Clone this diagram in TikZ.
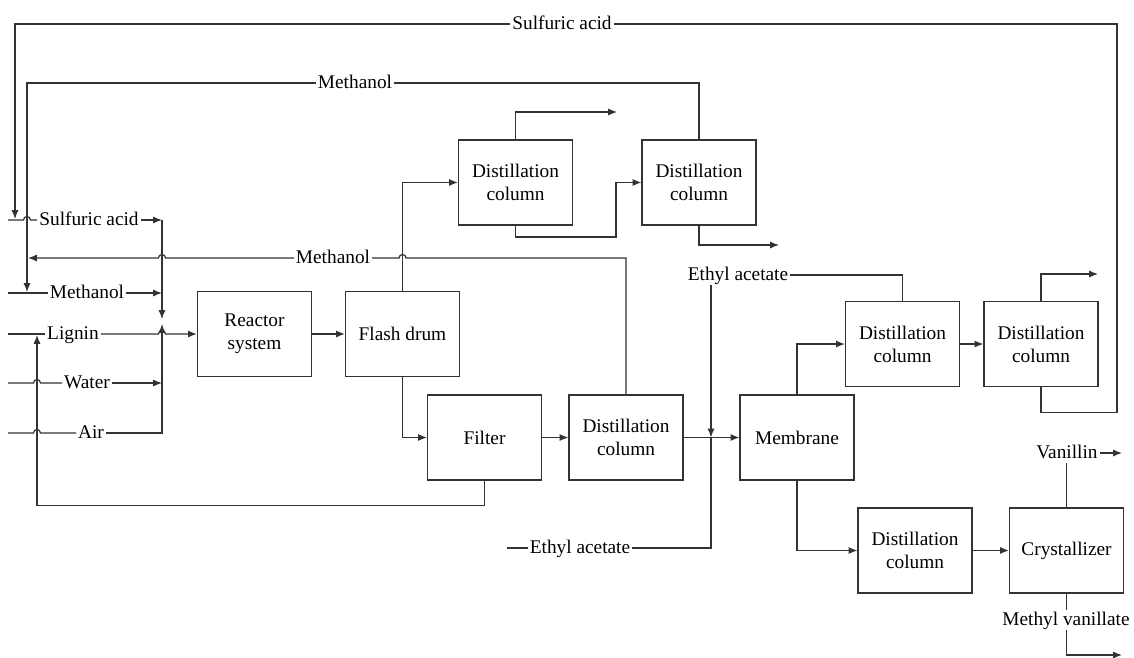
\documentclass[tikz,border=0pt]{standalone}
\usepackage{fontspec}
\setmainfont{Liberation Serif}
\usetikzlibrary{arrows.meta,positioning}
\tikzset{
  pfdbox/.style={
    rectangle, draw=black!80, line width=0.7pt,
    minimum width=2.28cm, minimum height=1.7cm,
    align=center, font=\fontsize{11}{13}\selectfont, inner sep=2pt
  },
  pfdlabel/.style={fill=white, inner sep=1pt, text height=1.55ex, text depth=0.3ex,
    font=\fontsize{11}{13}\selectfont},
  pfdline/.style={line width=0.7pt, draw=black!80},
  pfdarrow/.style={pfdline, -{Latex[length=5pt,width=4pt]}},
  jumpr/.style={insert path={arc[start angle=180,end angle=0,radius=0.07cm]}},
  jumpl/.style={insert path={arc[start angle=0,end angle=180,radius=0.07cm]}},
}

\begin{document}
\begin{tikzpicture}[x=0.02cm, y=-0.02cm]
  \useasboundingbox (0,0) rectangle (1134,657);
  % units
  \node (n1) [pfdbox] at (254.5,334) {Reactor\\system};
  \node (n2) [pfdbox] at (402.5,334) {Flash drum};
  \node (n3) [pfdbox] at (484.5,437.5) {Filter};
  \node (n4) [pfdbox] at (626,437.5) {Distillation\\column};
  \node (n5) [pfdbox] at (797,437.5) {Membrane};
  \node (n6) [pfdbox] at (515.5,182.5) {Distillation\\column};
  \node (n7) [pfdbox] at (699,182.5) {Distillation\\column};
  \node (n8) [pfdbox] at (902.5,344) {Distillation\\column};
  \node (n9) [pfdbox] at (1041,344) {Distillation\\column};
  \node (n10) [pfdbox] at (915,550.5) {Distillation\\column};
  \node (n11) [pfdbox] at (1066.5,550.5) {Crystallizer};
  % stream labels
  \node (t1) [pfdlabel] at (562,24) {Sulfuric acid};
  \node (t2) [pfdlabel] at (355,83) {Methanol};
  \node (t3) [pfdlabel] at (333,258) {Methanol};
  \node (f1) [pfdlabel] at (89,220) {Sulfuric acid};
  \node (f2) [pfdlabel] at (87,293) {Methanol};
  \node (f3) [pfdlabel] at (73,334) {Lignin};
  \node (f4) [pfdlabel] at (87,383) {Water};
  \node (f5) [pfdlabel] at (91,433) {Air};
  \node (e1) [pfdlabel] at (580,548) {Ethyl acetate};
  \node (e2) [pfdlabel] at (738,275) {Ethyl acetate};
  \node (p1) [pfdlabel] at (1067,453) {Vanillin};
  \node (p2) [pfdlabel] at (1066,620) {Methyl vanillate};
  % free ends
  \coordinate (s1) at (8,220); \coordinate (s2) at (8,293);
  \coordinate (s3) at (8,334); \coordinate (s4) at (8,383);
  \coordinate (s5) at (8,433); \coordinate (s6) at (507,548);
  \coordinate (mt) at (162,220); \coordinate (mb) at (162,433);
  \coordinate (m2) at (162,293); \coordinate (m4) at (162,383);
  \coordinate (ma) at (162,319); \coordinate (mc) at (162,324);
  \coordinate (r1) at (15,219); \coordinate (r2) at (27,292);
  \coordinate (r3) at (28,258); \coordinate (r4) at (37,335);
  \coordinate (jn) at (711,437.5);
  \coordinate (o1) at (617,112); \coordinate (o2) at (779,245);
  \coordinate (o3) at (1098,274); \coordinate (o4) at (1122,453);
  \coordinate (o5) at (1122,655);

  % feeds
  \draw[pfdline] (s1) -- (23.5,220) [jumpr] -- (f1.west);
  \draw[pfdarrow] (f1.east) -- (mt);
  \draw[pfdline] (s2) -- (f2.west); \draw[pfdarrow] (f2.east) -- (m2);
  \draw[pfdline] (s3) -- (f3.west);
  \draw[pfdarrow] (f3.east) -- (158.5,334) [jumpr] -- (n1.west);
  \draw[pfdline] (s4) -- (33.5,383) [jumpr] -- (f4.west);
  \draw[pfdarrow] (f4.east) -- (m4);
  \draw[pfdline] (s5) -- (33.5,433) [jumpr] -- (f5.west);
  \draw[pfdarrow] (f5.east) -- (mb) -- (mc);
  \draw[pfdarrow] (mt) -- (ma);

  % recycles
  \draw[pfdline] (n9.south) -- ++(0,25) -| (1117,24) -- (t1.east);
  \draw[pfdarrow] (t1.west) -| (r1);
  \draw[pfdline] (n7.north) |- (t2.east);
  \draw[pfdarrow] (t2.west) -| (r2);
  \draw[pfdline] (n4.north) |- (406,258) [jumpl] -- (t3.east);
  \draw[pfdarrow] (t3.west) -- (165.5,258) [jumpl] -- (r3);
  \draw[pfdarrow] (n3.south) -- ++(0,25) -| (r4);

  % main train
  \draw[pfdarrow] (n1) -- (n2);
  \draw[pfdarrow] (n2.north) |- (n6.west);
  \draw[pfdarrow] (n2.south) |- (n3.west);
  \draw[pfdarrow] (n3) -- (n4); \draw[pfdarrow] (n4) -- (n5);
  \draw[pfdarrow] (n6.north) |- (o1);
  \draw[pfdarrow] (n6.south) |- (616,237) |- (n7.west);
  \draw[pfdarrow] (n7.south) |- (o2);
  \draw[pfdline] (s6) -- (e1.west); \draw[pfdline] (e1.east) -| (jn);
  \draw[pfdarrow] (e2.south -| jn) -- (jn);
  \draw[pfdline] (n8.north) |- (e2.east);
  \draw[pfdarrow] (n5.north) |- (n8.west);
  \draw[pfdarrow] (n8) -- (n9);
  \draw[pfdarrow] (n9.north) |- (o3);
  \draw[pfdarrow] (n5.south) |- (n10.west);
  \draw[pfdarrow] (n10) -- (n11);
  \draw[pfdline] (n11.north) -- (n11.north |- p1.south);
  \draw[pfdarrow] (p1.east) -- (o4);
  \draw[pfdline] (n11.south) -- (n11.south |- p2.north);
  \draw[pfdarrow] (n11.south |- p2.south) |- (o5);
\end{tikzpicture}
\end{document}
